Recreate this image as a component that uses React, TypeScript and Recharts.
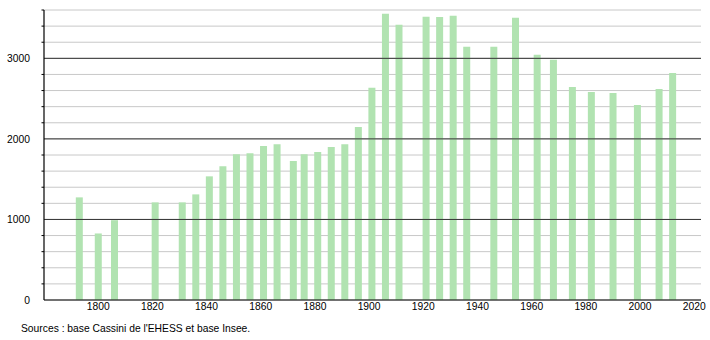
import { BarChart, Bar, XAxis, YAxis, ReferenceLine, CartesianGrid } from "recharts"

const years = [
  1793, 1800, 1806, 1821, 1831, 1836, 1841, 1846, 1851, 1856, 1861, 1866, 1872, 1876, 1881, 1886, 1891,
  1896, 1901, 1906, 1911, 1921, 1926, 1931, 1936, 1946, 1954, 1962, 1968, 1975, 1982, 1990, 1999, 2007,
  2012,
]
const population = [
  1274, 826, 991, 1212, 1212, 1311, 1535, 1660, 1810, 1822, 1913, 1934, 1726, 1810, 1838, 1900, 1934,
  2149, 2635, 3553, 3416, 3516, 3514, 3528, 3143, 3143, 3503, 3044, 2982, 2644, 2582, 2569, 2420, 2619,
  2818,
]
const xTicks = [1800, 1820, 1840, 1860, 1880, 1900, 1920, 1940, 1960, 1980, 2000, 2020]
const yLabels = [0, 1000, 2000, 3000]
const yAllTicks = [0, 200, 400, 600, 800, 1000, 1200, 1400, 1600, 1800, 2000, 2200, 2400, 2600, 2800, 3000, 3200, 3400, 3600]

const data = years.map((year, i) => ({ year, value: population[i] }))

const font = "'Liberation Sans', Arial, sans-serif"

// minor ticks every 200, labels only on the thousands
const YTick = (props: any) => {
  const { x, y, payload } = props
  const v = payload.value
  const major = yLabels.includes(v)
  return (
    <g>
      {!major && <line x1={x - 2.5} x2={x} y1={y} y2={y} stroke="#000" strokeWidth={1} />}
      {major && (
        <text x={x - 14} y={y} dy={3.8} textAnchor="end" fontSize={10.3} fontFamily={font} fill="#000">
          {v}
        </text>
      )}
    </g>
  )
}

export default function App() {
  return (
    <div style={{ position: "absolute", left: 0, top: 0, width: 710, height: 340, background: "#fff" }}>
      <BarChart width={710} height={340} data={data} margin={{ top: 10, right: 9, left: 0, bottom: 0 }}>
        <CartesianGrid vertical={false} stroke="#c8c8c8" strokeWidth={1} />
        <XAxis
          dataKey="year"
          type="number"
          domain={[1780, 2022.5]}
          ticks={xTicks}
          interval={0}
          allowDataOverflow
          height={40}
          tickLine={false}
          axisLine={false}
          tickSize={0}
          tickMargin={3}
          tick={{ fontSize: 10.3, fontFamily: font, fill: "#000" }}
        />
        <YAxis
          type="number"
          domain={[0, 3600]}
          ticks={yAllTicks}
          interval={0}
          width={44}
          tickLine={false}
          axisLine={false}
          tickSize={0}
          tickMargin={0}
          tick={<YTick />}
        />
        <Bar dataKey="value" fill="#b1e3b1" barSize={7} isAnimationActive={false} />
        {yLabels.slice(1).map((v) => (
          <ReferenceLine
            key={"M" + v}
            y={v}
            stroke="#333"
            strokeWidth={1}
            segment={[
              { x: 1778.2, y: v },
              { x: 2022.5, y: v },
            ]}
            ifOverflow="visible"
          />
        ))}
        <ReferenceLine
          y={0}
          stroke="#000"
          strokeWidth={1.2}
          segment={[
            { x: 1778.2, y: 0 },
            { x: 2022.5, y: 0 },
          ]}
          ifOverflow="visible"
        />
        <ReferenceLine x={1780} stroke="#000" strokeWidth={1.2} />
      </BarChart>
      <div
        style={{
          position: "absolute",
          left: 21,
          top: 323,
          fontSize: 10.3,
          fontFamily: font,
          color: "#000",
          whiteSpace: "nowrap",
        }}
      >
        Sources : base Cassini de l'EHESS et base Insee.
      </div>
    </div>
  )
}
